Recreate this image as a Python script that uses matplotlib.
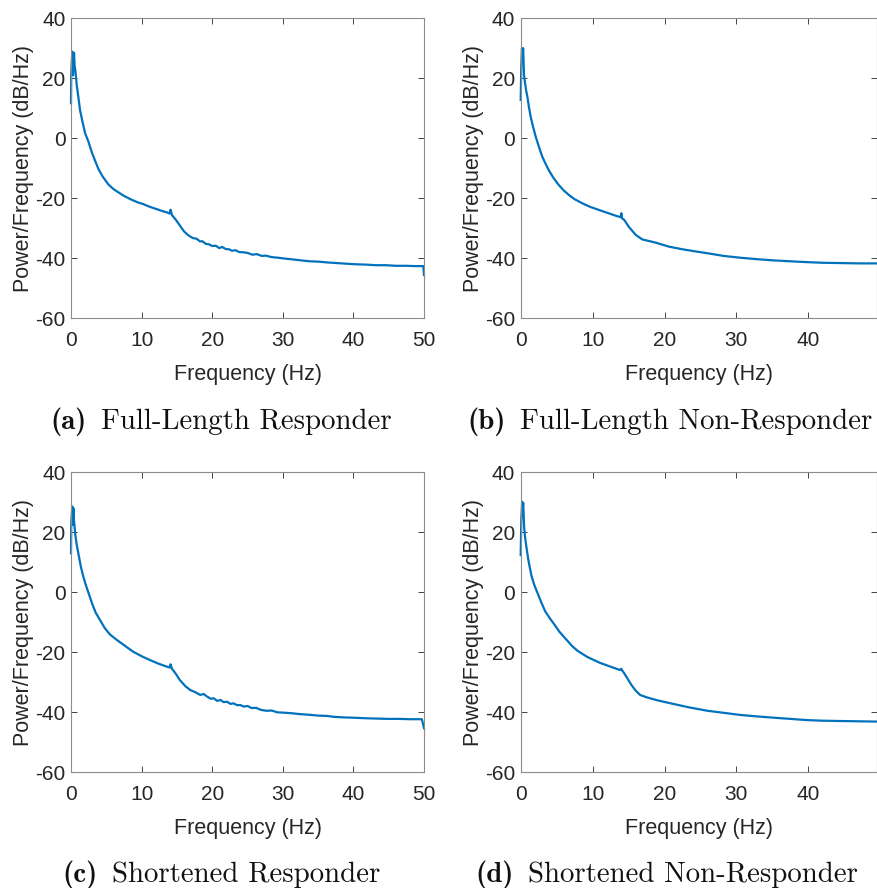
import matplotlib
matplotlib.use("Agg")
import matplotlib.pyplot as plt

plt.rcParams['font.family'] = ['Liberation Sans', 'DejaVu Sans']
plt.rcParams['axes.unicode_minus'] = False

# Full-Length Responder
freq_a = [0, 0.03, 0.12, 0.19, 0.28, 0.36, 0.43, 0.52, 0.62, 0.8, 1.0, 1.28, 1.6, 2.0, 2.45,
          3.0, 3.5, 3.9, 4.5, 5.3, 6.0, 6.7, 7.5, 8.6, 9.5, 10.2, 11.0, 12.0, 13.0, 13.6,
          14.0, 14.1, 14.3, 14.8, 15.4, 16.0, 16.6, 17.2, 17.8, 18.3, 18.6, 19.1, 19.5, 20.0,
          20.5, 21.0, 21.4, 21.9, 22.4, 22.8, 23.3, 23.8, 24.4, 25.0, 25.7, 26.3, 27.0, 27.6,
          28.4, 29.3, 30.3, 31.5, 32.6, 33.8, 35.0, 36.4, 37.7, 39.0, 40.4, 41.8, 43.2, 44.6,
          46.0, 47.4, 48.8, 49.9, 50.0]
psd_a = [11.7, 21.0, 26.0, 28.9, 21.0, 25.5, 28.5, 24.0, 22.5, 18.0, 14.5, 9.4, 5.8, 1.7, -1.0,
         -5.0, -8.0, -10.3, -12.8, -15.4, -16.9, -18.0, -19.2, -20.5, -21.4, -21.9, -22.7, -23.5, -24.3, -24.7,
         -25.1, -23.8, -25.6, -27.0, -29.0, -31.0, -32.3, -33.2, -33.5, -34.4, -34.3, -35.2, -35.3, -35.9,
         -35.8, -36.6, -36.2, -36.9, -37.0, -37.5, -37.3, -37.9, -38.0, -38.2, -38.8, -38.6, -39.2, -39.1,
         -39.6, -39.8, -40.1, -40.4, -40.7, -41.0, -41.1, -41.4, -41.6, -41.8, -42.0, -42.1, -42.3, -42.3,
         -42.5, -42.5, -42.6, -42.6, -45.6]

# Full-Length Non-Responder
freq_b = [0, 0.08, 0.17, 0.25, 0.34, 0.46, 0.6, 0.75, 0.93, 1.15, 1.39, 1.7, 2.08, 2.5, 3.0,
          3.5, 3.9, 4.5, 5.3, 6.0, 6.7, 7.5, 8.6, 9.6, 10.9, 12.0, 13.2, 13.9, 14.0, 14.1,
          14.4, 15.0, 16.0, 16.9, 17.6, 18.8, 20.6, 22.5, 24.3, 26.2, 28.2, 30.5, 32.9, 35.2,
          37.5, 40.0, 42.1, 44.8, 47.2, 49.6]
psd_b = [12.8, 24.0, 30.0, 27.5, 30.0, 21.0, 18.5, 16.0, 13.9, 10.3, 7.2, 4.0, 0.6, -2.6, -6.1,
         -8.7, -10.6, -13.0, -15.6, -17.4, -18.9, -20.3, -21.7, -22.8, -23.9, -24.8, -25.8, -26.3, -25.0, -26.7,
         -27.2, -29.4, -32.2, -33.7, -34.1, -34.8, -36.1, -37.0, -37.7, -38.4, -39.2, -39.8, -40.3, -40.7,
         -41.0, -41.3, -41.5, -41.6, -41.7, -41.7]

# Shortened Responder
freq_c = [0, 0.03, 0.12, 0.2, 0.27, 0.34, 0.42, 0.5, 0.62, 0.8, 1.04, 1.4, 1.75, 2.1, 2.45,
          3.0, 3.5, 4.1, 4.8, 5.5, 6.5, 7.5, 8.8, 10.0, 11.2, 12.4, 13.6, 14.0, 14.1, 14.3,
          14.8, 15.4, 16.2, 16.9, 17.6, 18.3, 18.8, 19.3, 19.8, 20.2, 20.7, 21.2, 21.6, 22.1,
          22.6, 23.0, 23.5, 24.0, 24.5, 25.0, 25.6, 26.2, 26.9, 27.7, 28.4, 29.2, 30.0, 31.2,
          32.4, 33.6, 35.0, 36.2, 37.2, 38.6, 40.0, 41.9, 43.5, 45.0, 46.5, 48.0, 49.7, 50.0]
psd_c = [13.0, 22.5, 26.5, 28.6, 22.5, 28.0, 24.0, 22.0, 19.0, 16.0, 13.0, 8.5, 5.2, 2.4, 0.0,
         -3.8, -6.8, -9.2, -12.0, -14.0, -15.9, -17.6, -19.8, -21.3, -22.6, -23.8, -24.8, -25.1, -24.0, -25.5,
         -27.0, -29.2, -31.3, -32.6, -33.3, -34.2, -33.9, -34.8, -35.5, -35.3, -36.2, -35.9, -36.6, -36.5,
         -37.2, -37.0, -37.6, -37.6, -38.1, -37.9, -38.6, -38.5, -39.2, -39.5, -39.4, -40.0, -40.1, -40.3,
         -40.6, -40.8, -41.1, -41.2, -41.5, -41.7, -41.8, -42.0, -42.1, -42.2, -42.2, -42.3, -42.3, -45.3]

# Shortened Non-Responder
freq_d = [0, 0.08, 0.2, 0.27, 0.35, 0.47, 0.6, 0.8, 1.05, 1.3, 1.53, 1.9, 2.3, 2.8, 3.4,
          4.0, 4.55, 5.4, 6.4, 7.1, 7.9, 9.3, 11.0, 12.5, 13.8, 14.0, 14.1, 14.4, 15.4, 16.0,
          16.6, 17.5, 19.0, 21.2, 23.5, 26.0, 28.3, 30.6, 33.0, 35.2, 37.5, 39.8, 42.0, 44.4,
          47.0, 49.6]
psd_d = [12.4, 24.0, 30.2, 27.5, 29.8, 22.0, 18.5, 15.0, 11.0, 7.8, 5.2, 2.4, 0.0, -3.0, -6.3,
         -8.5, -10.3, -13.2, -15.9, -17.8, -19.5, -21.6, -23.5, -24.8, -25.9, -25.5, -26.0, -27.0, -30.9, -32.8,
         -34.2, -35.0, -36.0, -37.2, -38.4, -39.5, -40.2, -40.9, -41.4, -41.8, -42.2, -42.6, -42.8, -42.9,
         -43.0, -43.1]

panels = [
    (freq_a, psd_a, 50.0, '(a)', 'Full-Length Responder'),
    (freq_b, psd_b, 49.55, '(b)', 'Full-Length Non-Responder'),
    (freq_c, psd_c, 50.0, '(c)', 'Shortened Responder'),
    (freq_d, psd_d, 49.55, '(d)', 'Shortened Non-Responder'),
]

W, H = 877, 888
fig = plt.figure(figsize=(W / 100, H / 100), dpi=100)

# axes boxes in pixels: left, top, right, bottom
boxes = [(71, 18.3, 424, 318.3), (520.7, 18.3, 877, 318.3),
         (71, 472.3, 424, 772.3), (520.7, 472.3, 877, 772.3)]
# caption start x and baseline y, in pixels
caption_pos = [(50, 429), (467, 429), (62, 882), (475, 882)]

line_color = '#0072BD'
text_color = '#262626'

renderer = fig.canvas.get_renderer()
for (f, p, xmax, tag, name), (l, t, r, b), (cx, cy) in zip(panels, boxes, caption_pos):
    ax = fig.add_axes([l / W, 1 - b / H, (r - l) / W, (b - t) / H])
    ax.plot(f, p, color=line_color, linewidth=1.6, clip_on=False)
    ax.set_xlim(0, xmax)
    ax.set_ylim(-60, 40)
    ax.set_xticks([0, 10, 20, 30, 40, 50] if xmax >= 50 else [0, 10, 20, 30, 40])
    ax.set_yticks([-60, -40, -20, 0, 20, 40])
    ax.tick_params(direction='in', top=True, right=True, length=4, width=0.6,
                   color=text_color, labelsize=15, labelcolor=text_color)
    ax.tick_params(axis='x', pad=9)
    ax.tick_params(axis='y', pad=4)
    for s in ax.spines.values():
        s.set_color('#8c8c8c')
        s.set_linewidth(0.8)
    ax.set_xlabel('Frequency (Hz)', fontsize=15.5, color=text_color, labelpad=10)
    ax.set_ylabel('Power/Frequency (dB/Hz)', fontsize=15.5, color=text_color, labelpad=1)

    t1 = fig.text(cx / W, 1 - cy / H, tag, family='cmb10', fontsize=20.8,
                  ha='left', va='baseline', color='#111111')
    w1 = t1.get_window_extent(renderer).width
    fig.text((cx + w1 + 15) / W, 1 - cy / H, name, family='cmr10', fontsize=20.8,
             ha='left', va='baseline', color='#111111')

fig.savefig('out.png', dpi=100)
